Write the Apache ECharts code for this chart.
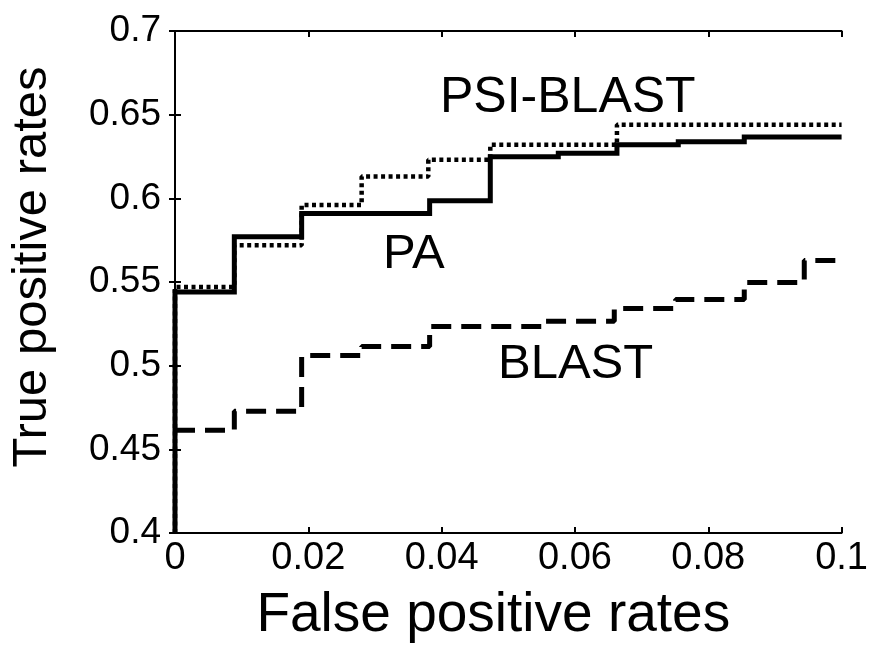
<!DOCTYPE html>
<html>
<head>
<meta charset="utf-8">
<script src="https://cdn.jsdelivr.net/npm/echarts@6/dist/echarts.min.js"></script>
<style>
html,body{margin:0;padding:0;background:#fff;}
#chart{width:871px;height:648px;}
</style>
</head>
<body>
<div id="chart"></div>
<script>
// ---- data ----
const paX    = [0, 0, 0.0089, 0.019, 0.0382, 0.0473, 0.0575, 0.0663, 0.0755, 0.0854, 0.1];
const paY    = [0.4, 0.544, 0.577, 0.591, 0.5986, 0.6248, 0.627, 0.632, 0.6338, 0.6367, 0.6367];
const psiX   = [0, 0, 0.0089, 0.019, 0.028, 0.038, 0.0473, 0.0663, 0.1];
const psiY   = [0.4, 0.547, 0.572, 0.596, 0.613, 0.623, 0.632, 0.644, 0.644];
const blastX = [0, 0.0089, 0.019, 0.028, 0.0382, 0.0556, 0.0659, 0.0751, 0.0854, 0.0944, 0.1];
const blastY = [0.4614, 0.4727, 0.5061, 0.5115, 0.5234, 0.5265, 0.5342, 0.5395, 0.5497, 0.5628, 0.5628];
const xTicks = [0, 0.02, 0.04, 0.06, 0.08, 0.1];
const yTicks = [0.4, 0.45, 0.5, 0.55, 0.6, 0.65, 0.7];
const seriesNames = ['PA', 'PSI-BLAST', 'BLAST'];
const xTitle = 'False positive rates';
const yTitle = 'True positive rates';

const zip = (xs, ys) => xs.map((x, i) => [x, ys[i]]);
const FONT = '"Liberation Sans", Arial, Helvetica, sans-serif';

const chart = echarts.init(document.getElementById('chart'));
const axisLine = {show: true, lineStyle: {color: '#000', width: 2}};
const tick = {show: true, inside: true, length: 6, lineStyle: {color: '#000', width: 2}};
const fmtX = v => {
  const r = Math.round(v * 100) / 100;
  return xTicks.some(t => Math.abs(t - r) < 1e-9) ? String(r) : '';
};
const fmtY = v => {
  const r = Math.round(v * 100) / 100;
  return yTicks.some(t => Math.abs(t - r) < 1e-9) ? String(r) : '';
};

chart.setOption({
  backgroundColor: '#fff',
  animation: false,
  grid: {left: 167, right: 19, top: 31, bottom: 96, containLabel: false},
  xAxis: [{
    type: 'value', min: 0, max: 0.1, interval: 0.02,
    position: 'bottom',
    name: xTitle, nameLocation: 'middle', nameGap: 55,
    nameTextStyle: {fontFamily: FONT, fontSize: 55, color: '#000', padding: [0, 30, 0, 0]},
    axisLine: axisLine,
    axisTick: tick,
    axisLabel: {fontFamily: FONT, fontSize: 38, color: '#000', margin: 7, formatter: fmtX},
    splitLine: {show: false}
  }, {
    type: 'value', min: 0, max: 0.1, interval: 0.02,
    position: 'top',
    axisLine: axisLine,
    axisTick: tick,
    axisLabel: {show: false},
    splitLine: {show: false}
  }],
  yAxis: [{
    type: 'value', min: 0.4, max: 0.7, interval: 0.05,
    position: 'left',
    name: yTitle, nameLocation: 'middle', nameGap: 118,
    nameTextStyle: {fontFamily: FONT, fontSize: 49, color: '#000', padding: [0, 0, 0, 30]},
    axisLine: axisLine,
    axisTick: tick,
    axisLabel: {fontFamily: FONT, fontSize: 37, color: '#000', margin: 14, formatter: fmtY},
    splitLine: {show: false}
  }, {
    type: 'value', min: 0.4, max: 0.7, interval: 0.05,
    position: 'right',
    axisLine: axisLine,
    axisTick: tick,
    axisLabel: {show: false},
    splitLine: {show: false}
  }],
  series: [{
    name: seriesNames[0], type: 'line', step: 'end', showSymbol: false,
    data: zip(paX, paY),
    lineStyle: {color: '#000', width: 5, cap: 'butt', join: 'miter'},
    z: 3
  }, {
    name: seriesNames[1], type: 'line', step: 'end', showSymbol: false,
    data: zip(psiX, psiY),
    lineStyle: {color: '#000', width: 4.5, type: [4, 3.5], cap: 'butt'},
    z: 4
  }, {
    name: seriesNames[2], type: 'line', step: 'end', showSymbol: false,
    data: zip(blastX, blastY),
    lineStyle: {color: '#000', width: 5, type: [20, 10], cap: 'butt'},
    z: 2
  }],
  graphic: [
    {type: 'text', left: 440, top: 73, style: {text: 'PSI-BLAST', font: '50px ' + FONT, fill: '#000'}},
    {type: 'text', left: 383, top: 230, style: {text: 'PA', font: '49px ' + FONT, fill: '#000'}},
    {type: 'text', left: 498, top: 340, style: {text: 'BLAST', font: '49px ' + FONT, fill: '#000'}}
  ]
});
</script>
</body>
</html>
